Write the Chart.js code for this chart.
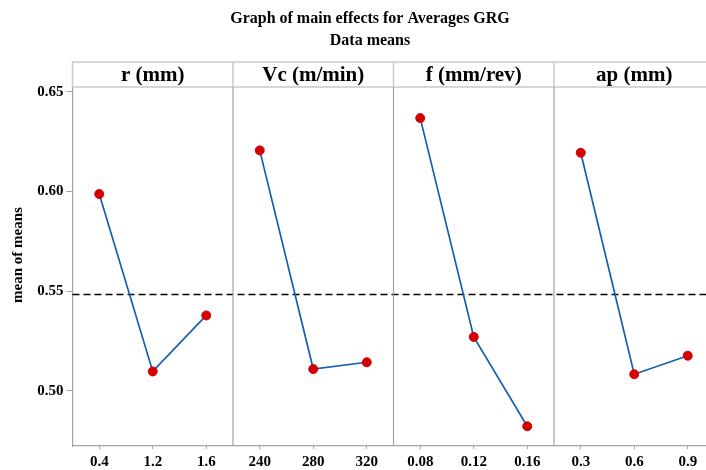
<!DOCTYPE html>
<html>
<head>
<meta charset="utf-8">
<title>Main effects plot</title>
<script src="https://cdn.jsdelivr.net/npm/chart.js@4.4.1/dist/chart.umd.min.js"></script>
<style>
    html, body { margin: 0; padding: 0; background: #fff; overflow: hidden; }
    #wrap { width: 720px; height: 470px; }
</style>
</head>
<body>
<div id="wrap"><canvas id="effects" width="720" height="470"></canvas></div>
<script>
// Factors and their levels
const factorNames = ['r (mm)', 'Vc (m/min)', 'f (mm/rev)', 'ap (mm)'];
const rLevels = ['0.4', '1.2', '1.6'];
const vcLevels = ['240', '280', '320'];
const fLevels = ['0.08', '0.12', '0.16'];
const apLevels = ['0.3', '0.6', '0.9'];

// Mean GRG at each level
const rMeans = [0.5987, 0.5097, 0.5378];
const vcMeans = [0.6206, 0.5109, 0.5143];
const fMeans = [0.6368, 0.5270, 0.4822];
const apMeans = [0.6194, 0.5083, 0.5176];

const yTicks = [0.50, 0.55, 0.60, 0.65];

const levelSets = [rLevels, vcLevels, fLevels, apLevels];
const meanSets = [rMeans, vcMeans, fMeans, apMeans];
const allLabels = levelSets.flat();
const allMeans = meanSets.flat();
const grandMean = allMeans.reduce((a, b) => a + b, 0) / allMeans.length;

const serif = '"Liberation Serif", "Times New Roman", serif';
const lineBlue = '#1560ae';
const dotRed = '#d20000';
const axisGray = '#a4a4a4';
const stripGray = '#c9c9c9';

// each factor gets its own block of slots on the shared category axis
let start = 0;
const blockStarts = [];
const datasets = meanSets.map((means, i) => {
    const data = allLabels.map(() => null);
    means.forEach((v, j) => { data[start + j] = v; });
    blockStarts.push(start);
    start += levelSets[i].length;
    return {
        label: factorNames[i],
        data: data,
        borderColor: lineBlue,
        borderWidth: 1.7,
        pointRadius: 4.5,
        pointBackgroundColor: dotRed,
        pointBorderColor: dotRed,
        pointBorderWidth: 1,
        tension: 0,
        spanGaps: false
    };
});

// panel headers, dividers, mean line and titles
const panelPlugin = {
    id: 'panels',
    beforeDatasetsDraw(chart) {
        const { ctx, chartArea: a, scales } = chart;
        const x = scales.x, y = scales.y;
        const stripTop = 62;

        // dashed grand-mean line
        const ym = Math.round(y.getPixelForValue(grandMean)) + 0.5;
        ctx.save();
        ctx.strokeStyle = '#000';
        ctx.lineWidth = 1.3;
        ctx.setLineDash([7, 4]);
        ctx.beginPath();
        ctx.moveTo(a.left, ym);
        ctx.lineTo(a.right, ym);
        ctx.stroke();
        ctx.setLineDash([]);

        // header strip
        ctx.strokeStyle = stripGray;
        ctx.lineWidth = 1.5;
        ctx.strokeRect(a.left, stripTop, a.right - a.left, a.top - stripTop);

        // panel boundaries halfway between neighbouring blocks
        const edges = [a.left];
        for (let i = 1; i < blockStarts.length; i++) {
            const k = blockStarts[i];
            edges.push((x.getPixelForValue(k - 1) + x.getPixelForValue(k)) / 2);
        }
        edges.push(a.right);

        for (let i = 1; i < edges.length - 1; i++) {
            ctx.strokeStyle = stripGray;
            ctx.beginPath();
            ctx.moveTo(edges[i], stripTop);
            ctx.lineTo(edges[i], a.top);
            ctx.stroke();
            ctx.strokeStyle = axisGray;
            ctx.lineWidth = 1.2;
            ctx.beginPath();
            ctx.moveTo(edges[i], a.top);
            ctx.lineTo(edges[i], a.bottom);
            ctx.stroke();
            ctx.lineWidth = 1.5;
        }

        ctx.fillStyle = '#000';
        ctx.font = 'bold 21px ' + serif;
        ctx.textAlign = 'center';
        ctx.textBaseline = 'alphabetic';
        factorNames.forEach((name, i) => {
            ctx.fillText(name, (edges[i] + edges[i + 1]) / 2, 81);
        });
        ctx.restore();
    },
    afterDraw(chart) {
        const { ctx } = chart;
        ctx.save();
        ctx.fillStyle = '#000';
        ctx.textAlign = 'center';
        ctx.textBaseline = 'alphabetic';
        ctx.font = 'bold 16px ' + serif;
        ctx.fillText('Graph of main effects for Averages GRG', 370, 23);
        ctx.fillText('Data means', 370, 45);

        ctx.translate(18, 255);
        ctx.rotate(-Math.PI / 2);
        ctx.textBaseline = 'middle';
        ctx.font = 'bold 15px ' + serif;
        ctx.fillText('mean of means', 0, 0);
        ctx.restore();
    }
};

new Chart(document.getElementById('effects'), {
    type: 'line',
    data: { labels: allLabels, datasets: datasets },
    options: {
        responsive: false,
        animation: false,
        devicePixelRatio: 1,
        layout: { padding: { top: 87, right: 3, left: 0, bottom: 0 } },
        plugins: {
            legend: { display: false },
            tooltip: { enabled: false },
            title: { display: false }
        },
        scales: {
            x: {
                type: 'category',
                offset: true,
                grid: {
                    offset: false,
                    drawOnChartArea: false,
                    drawTicks: true,
                    tickLength: 3,
                    color: axisGray
                },
                border: { display: true, color: axisGray, width: 1.2 },
                ticks: {
                    autoSkip: false,
                    maxRotation: 0,
                    padding: 4,
                    color: '#000',
                    font: { family: serif, size: 15, weight: 'bold' }
                },
                afterFit: scale => { scale.height = 24; }
            },
            y: {
                min: 0.4723,
                max: 0.6524,
                grid: {
                    drawOnChartArea: false,
                    drawTicks: true,
                    tickLength: 6,
                    color: axisGray
                },
                border: { display: true, color: axisGray, width: 1.2 },
                ticks: {
                    padding: 3,
                    color: '#000',
                    font: { family: serif, size: 15, weight: 'bold' },
                    callback: v => v.toFixed(2)
                },
                afterBuildTicks: scale => {
                    scale.ticks = yTicks.map(v => ({ value: v }));
                },
                afterFit: scale => { scale.width = 72.5; }
            }
        }
    },
    plugins: [panelPlugin]
});
</script>
</body>
</html>
